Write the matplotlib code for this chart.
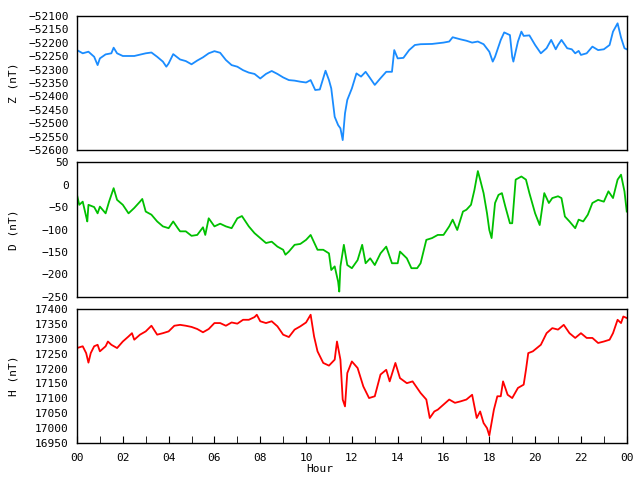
import matplotlib
matplotlib.use("Agg")
import matplotlib.pyplot as plt
import numpy as np

# readings, hour of day -> nT
z_hours = [0, 0.25, 0.5, 0.75, 0.9, 1.0, 1.25, 1.5, 1.6, 1.75, 2.0, 2.5, 3.0, 3.25, 3.5, 3.75,
           3.9, 4.0, 4.2, 4.5, 4.75, 5.0, 5.25, 5.5, 5.75, 6.0, 6.25, 6.5, 6.75, 7.0, 7.25, 7.5,
           7.75, 8.0, 8.25, 8.5, 8.75, 9.0, 9.25, 9.5, 9.75, 10.0, 10.2, 10.4, 10.6, 10.85, 11.0,
           11.1, 11.25, 11.4, 11.5, 11.6, 11.7, 11.8, 12.0, 12.2, 12.4, 12.6, 12.75, 13.0, 13.25,
           13.5, 13.75, 13.85, 14.0, 14.25, 14.5, 14.75, 15.0, 15.5, 16.0, 16.25, 16.4, 16.75,
           17.0, 17.25, 17.5, 17.75, 18.0, 18.15, 18.25, 18.5, 18.65, 18.9, 19.0, 19.05, 19.25,
           19.4, 19.5, 19.75, 20.0, 20.25, 20.5, 20.7, 20.9, 21.0, 21.15, 21.4, 21.6, 21.75, 21.9,
           22.0, 22.25, 22.5, 22.75, 23.0, 23.25, 23.4, 23.6, 23.75, 23.9, 24.0]
z_values = [-52227, -52239, -52233, -52252, -52283, -52258, -52243, -52239, -52218, -52239,
            -52249, -52249, -52239, -52236, -52252, -52270, -52289, -52277, -52242, -52262,
            -52268, -52280, -52266, -52254, -52239, -52231, -52237, -52264, -52283, -52289,
            -52302, -52311, -52316, -52333, -52316, -52305, -52316, -52329, -52339, -52341,
            -52345, -52348, -52339, -52376, -52374, -52304, -52339, -52370, -52476, -52507,
            -52519, -52563, -52463, -52413, -52370, -52314, -52326, -52308, -52326, -52357,
            -52332, -52308, -52308, -52227, -52258, -52256, -52227, -52208, -52205, -52204,
            -52199, -52195, -52179, -52187, -52192, -52199, -52195, -52205, -52233, -52270,
            -52252, -52189, -52161, -52171, -52252, -52270, -52195, -52158, -52174, -52172,
            -52208, -52239, -52220, -52189, -52224, -52208, -52189, -52220, -52224, -52239,
            -52230, -52245, -52239, -52214, -52227, -52224, -52208, -52158, -52127, -52180,
            -52220, -52224]

d_hours = [0, 0.1, 0.25, 0.4, 0.45, 0.5, 0.75, 0.9, 1.0, 1.25, 1.4, 1.6, 1.75, 2.0, 2.25, 2.5,
           2.75, 2.85, 3.0, 3.25, 3.5, 3.75, 4.0, 4.2, 4.4, 4.5, 4.75, 5.0, 5.25, 5.5, 5.6, 5.75,
           6.0, 6.25, 6.5, 6.75, 7.0, 7.2, 7.5, 7.75, 8.0, 8.25, 8.5, 8.75, 9.0, 9.1, 9.25, 9.5,
           9.75, 10.0, 10.2, 10.5, 10.75, 11.0, 11.1, 11.25, 11.4, 11.45, 11.5, 11.65, 11.8, 12.0,
           12.25, 12.45, 12.6, 12.8, 13.0, 13.25, 13.5, 13.75, 14.0, 14.1, 14.4, 14.6, 14.85,
           15.0, 15.25, 15.5, 15.75, 16.0, 16.25, 16.4, 16.6, 16.85, 17.0, 17.2, 17.35, 17.5,
           17.6, 17.75, 17.9, 18.0, 18.1, 18.25, 18.4, 18.55, 18.7, 18.9, 19.0, 19.15, 19.4,
           19.6, 19.75, 20.0, 20.2, 20.4, 20.6, 20.75, 21.0, 21.15, 21.3, 21.5, 21.75, 21.9,
           22.1, 22.3, 22.5, 22.75, 23.0, 23.2, 23.4, 23.6, 23.75, 23.9, 24.0]
d_values = [-23, -45, -38, -71, -82, -45, -50, -64, -49, -64, -38, -8, -34, -45, -64, -52, -38,
            -32, -60, -67, -82, -93, -97, -82, -97, -104, -104, -114, -112, -95, -112, -75, -93,
            -87, -93, -97, -75, -70, -93, -108, -119, -130, -127, -138, -145, -156, -149, -134,
            -132, -123, -112, -145, -145, -153, -190, -182, -216, -238, -182, -134, -179, -186,
            -168, -134, -175, -164, -179, -153, -138, -175, -175, -149, -164, -186, -186, -175,
            -123, -119, -112, -112, -93, -78, -101, -60, -56, -45, -12, 30, 11, -19, -64, -101,
            -119, -41, -23, -19, -49, -86, -86, 11, 18, 11, -19, -64, -90, -19, -41, -30, -26,
            -30, -71, -82, -97, -78, -82, -67, -41, -34, -38, -15, -30, 11, 22, -15, -60]

h_hours = [0, 0.25, 0.4, 0.5, 0.6, 0.75, 0.9, 1.0, 1.25, 1.35, 1.5, 1.75, 2.0, 2.25, 2.4, 2.5,
           2.75, 3.0, 3.25, 3.5, 3.75, 4.0, 4.25, 4.5, 4.75, 5.0, 5.25, 5.5, 5.75, 6.0, 6.25,
           6.5, 6.75, 7.0, 7.25, 7.5, 7.75, 7.85, 8.0, 8.25, 8.5, 8.75, 9.0, 9.25, 9.5, 9.75,
           10.0, 10.2, 10.35, 10.5, 10.75, 11.0, 11.25, 11.35, 11.5, 11.6, 11.7, 11.8, 12.0,
           12.25, 12.5, 12.75, 13.0, 13.25, 13.5, 13.65, 13.9, 14.1, 14.4, 14.65, 15.0, 15.25,
           15.4, 15.6, 15.75, 16.0, 16.25, 16.5, 16.75, 17.0, 17.25, 17.45, 17.6, 17.75, 17.9,
           18.0, 18.2, 18.35, 18.5, 18.6, 18.8, 19.0, 19.25, 19.5, 19.6, 19.7, 19.9, 20.25, 20.5,
           20.75, 21.0, 21.25, 21.5, 21.75, 22.0, 22.25, 22.5, 22.75, 23.0, 23.25, 23.4, 23.6,
           23.75, 23.85, 24.0]
h_values = [17269, 17275, 17252, 17220, 17252, 17275, 17280, 17258, 17275, 17291, 17280, 17269,
            17291, 17308, 17319, 17297, 17314, 17325, 17344, 17314, 17319, 17325, 17344, 17347,
            17344, 17340, 17333, 17322, 17333, 17353, 17353, 17344, 17355, 17351, 17364, 17364,
            17373, 17381, 17359, 17353, 17359, 17342, 17314, 17306, 17331, 17342, 17355, 17381,
            17308, 17258, 17219, 17210, 17230, 17291, 17230, 17096, 17073, 17185, 17224, 17202,
            17140, 17101, 17107, 17180, 17196, 17157, 17219, 17168, 17151, 17157, 17118, 17096,
            17034, 17056, 17062, 17079, 17096, 17085, 17090, 17096, 17112, 17034, 17056, 17017,
            17000, 16975, 17062, 17107, 17107, 17157, 17112, 17101, 17135, 17146, 17196, 17252,
            17258, 17280, 17319, 17336, 17331, 17347, 17319, 17303, 17319, 17303, 17303, 17286,
            17291, 17297, 17319, 17364, 17353, 17375, 17370]

panels = [
    ("Z (nT)", z_hours, z_values, "#1a8cff", (-52600, -52100)),
    ("D (nT)", d_hours, d_values, "#00c000", (-250, 50)),
    ("H (nT)", h_hours, h_values, "#ff0000", (16950, 17400)),
]
boxes = [(0.1203, 0.6875, 0.859, 0.279),
         (0.1203, 0.3813, 0.859, 0.281),
         (0.1203, 0.0771, 0.859, 0.279)]

font = "DejaVu Sans Mono"
fig = plt.figure(figsize=(6.4, 4.8), dpi=100)

for i, (label, hrs, vals, col, lim) in enumerate(panels):
    ax = fig.add_axes(boxes[i])
    ax.plot(hrs, vals, color=col, lw=1.3)
    ax.set_xlim(0, 24)
    ax.set_ylim(*lim)
    ax.set_yticks(np.arange(lim[0], lim[1] + 1, 50))
    ax.tick_params(axis="y", length=0, pad=6, labelsize=8)
    for t in ax.get_yticklabels():
        t.set_family(font)
    ax.set_ylabel(label, fontsize=8, family=font)
    ax.yaxis.set_label_coords(-0.106, 0.5)
    for s in ax.spines.values():
        s.set_linewidth(1.0)
    if i < 2:
        ax.set_xticks([])
    else:
        ax.set_xticks(range(0, 25, 2))
        ax.set_xticks(range(1, 24, 2), minor=True)
        ax.set_xticklabels(["%02d" % (h % 24) for h in range(0, 25, 2)], family=font, fontsize=8)
        ax.tick_params(axis="x", which="both", direction="in", length=5, pad=7)

fig.text(0.5, 0.023, "Hour", ha="center", va="center", fontsize=8, family=font)
fig.savefig("out.png", dpi=100)
